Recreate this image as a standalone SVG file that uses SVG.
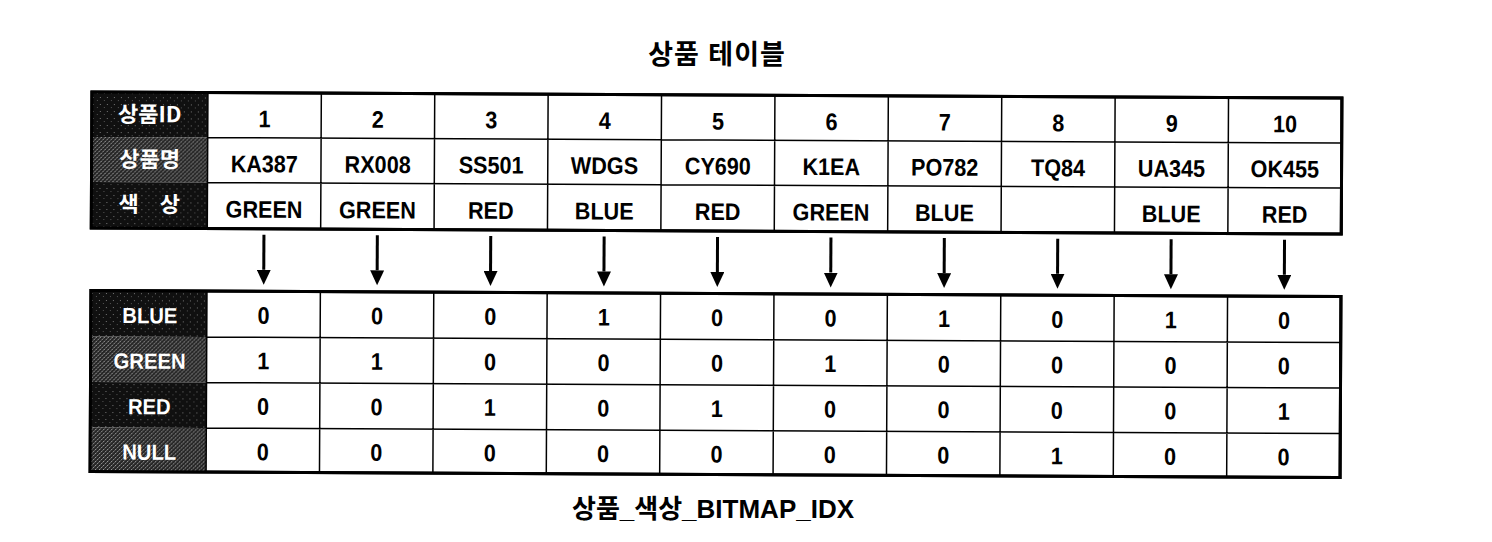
<svg xmlns="http://www.w3.org/2000/svg" width="1492" height="542" viewBox="0 0 1492 542">
<style>
  .ttl{font-family:"Liberation Sans","Noto Sans CJK KR",sans-serif;font-weight:bold;fill:#000;text-anchor:middle}
  .hk{font-family:"Noto Sans CJK KR","Liberation Sans",sans-serif;font-weight:bold;font-size:22px;fill:#fff;text-anchor:middle}
  .he{font-family:"Liberation Sans","Noto Sans CJK KR",sans-serif;font-weight:bold;font-size:22px;fill:#fff;text-anchor:middle}
  .d{font-family:"Liberation Sans",Arial,sans-serif;font-weight:bold;font-size:24px;fill:#000;text-anchor:middle}
  .outer{fill:#fff;stroke:#000;stroke-width:3}
  .grid{stroke:#000;stroke-width:1.5;fill:none}
  .shaft{stroke:#000;stroke-width:3;fill:none;marker-end:url(#ah)}
</style>
<defs>
  <pattern id="dk" width="7" height="7" patternUnits="userSpaceOnUse">
    <rect width="7" height="7" fill="#101010"/>
    <rect x="1" y="2" width="1" height="1" fill="#777"/>
    <rect x="5" y="5" width="1" height="1" fill="#555"/>
  </pattern>
  <pattern id="gy" width="4" height="4" patternUnits="userSpaceOnUse">
    <rect width="4" height="4" fill="#262626"/>
    <rect x="0" y="0" width="1" height="1" fill="#aaa"/>
    <rect x="2" y="2" width="1" height="1" fill="#999"/>
    <rect x="3" y="1" width="1" height="1" fill="#6a6a6a"/>
    <rect x="1" y="3" width="1" height="1" fill="#5a5a5a"/>
  </pattern>
  <marker id="ah" markerUnits="userSpaceOnUse" markerWidth="16" markerHeight="14" refX="0" refY="7" orient="auto">
    <path d="M0,0 L15,7 L0,14 z" fill="#000"/>
  </marker>
</defs>
<rect width="1492" height="542" fill="#fff"/>

<g id="title-product-table">
  <text class="ttl" x="717" y="64" font-size="27" letter-spacing="1">상품 테이블</text>
</g>

<g transform="rotate(0.28 716 285)">
  <g id="product-table">
    <rect class="outer" x="91" y="95" width="1250" height="136"/>
    <g id="hdr-id"><rect x="91" y="95" width="116" height="45" fill="url(#dk)"/><text class="hk" x="149" y="125">상품ID</text></g>
    <g id="hdr-name"><rect x="91" y="140" width="116" height="45" fill="url(#gy)"/><text class="hk" x="149" y="170">상품명</text></g>
    <g id="hdr-color"><rect x="91" y="185" width="116" height="46" fill="url(#dk)"/><text class="hk" x="153" y="215" letter-spacing="8">색 상</text></g>
    <path class="grid" d="M207,140 H1341 M207,185 H1341 M207,95 V231 M320.4,95 V231 M433.8,95 V231 M547.2,95 V231 M660.6,95 V231 M774,95 V231 M887.4,95 V231 M1000.8,95 V231 M1114.2,95 V231 M1227.6,95 V231"/>
    <rect x="91" y="95" width="1250" height="136" fill="none" stroke="#000" stroke-width="3"/>
    <g id="product-1"><text class="d" transform="translate(263.7 129.5) scale(0.9 1)">1</text><text class="d" transform="translate(263.7 174.5) scale(0.9 1)">KA387</text><text class="d" transform="translate(263.7 220) scale(0.9 1)">GREEN</text></g>
    <g id="product-2"><text class="d" transform="translate(377.1 129.5) scale(0.9 1)">2</text><text class="d" transform="translate(377.1 174.5) scale(0.9 1)">RX008</text><text class="d" transform="translate(377.1 220) scale(0.9 1)">GREEN</text></g>
    <g id="product-3"><text class="d" transform="translate(490.5 129.5) scale(0.9 1)">3</text><text class="d" transform="translate(490.5 174.5) scale(0.9 1)">SS501</text><text class="d" transform="translate(490.5 220) scale(0.9 1)">RED</text></g>
    <g id="product-4"><text class="d" transform="translate(603.9 129.5) scale(0.9 1)">4</text><text class="d" transform="translate(603.9 174.5) scale(0.9 1)">WDGS</text><text class="d" transform="translate(603.9 220) scale(0.9 1)">BLUE</text></g>
    <g id="product-5"><text class="d" transform="translate(717.3 129.5) scale(0.9 1)">5</text><text class="d" transform="translate(717.3 174.5) scale(0.9 1)">CY690</text><text class="d" transform="translate(717.3 220) scale(0.9 1)">RED</text></g>
    <g id="product-6"><text class="d" transform="translate(830.7 129.5) scale(0.9 1)">6</text><text class="d" transform="translate(830.7 174.5) scale(0.9 1)">K1EA</text><text class="d" transform="translate(830.7 220) scale(0.9 1)">GREEN</text></g>
    <g id="product-7"><text class="d" transform="translate(944.1 129.5) scale(0.9 1)">7</text><text class="d" transform="translate(944.1 174.5) scale(0.9 1)">PO782</text><text class="d" transform="translate(944.1 220) scale(0.9 1)">BLUE</text></g>
    <g id="product-8"><text class="d" transform="translate(1057.5 129.5) scale(0.9 1)">8</text><text class="d" transform="translate(1057.5 174.5) scale(0.9 1)">TQ84</text></g>
    <g id="product-9"><text class="d" transform="translate(1170.9 129.5) scale(0.9 1)">9</text><text class="d" transform="translate(1170.9 174.5) scale(0.9 1)">UA345</text><text class="d" transform="translate(1170.9 220) scale(0.9 1)">BLUE</text></g>
    <g id="product-10"><text class="d" transform="translate(1284.3 129.5) scale(0.9 1)">10</text><text class="d" transform="translate(1284.3 174.5) scale(0.9 1)">OK455</text><text class="d" transform="translate(1284.3 220) scale(0.9 1)">RED</text></g>
  </g>

  <g id="connectors">
    <line class="shaft" x1="263.7" y1="237" x2="263.7" y2="272"/>
    <line class="shaft" x1="377.1" y1="237" x2="377.1" y2="272"/>
    <line class="shaft" x1="490.5" y1="237" x2="490.5" y2="272"/>
    <line class="shaft" x1="603.9" y1="237" x2="603.9" y2="272"/>
    <line class="shaft" x1="717.3" y1="237" x2="717.3" y2="272"/>
    <line class="shaft" x1="830.7" y1="237" x2="830.7" y2="272"/>
    <line class="shaft" x1="944.1" y1="237" x2="944.1" y2="272"/>
    <line class="shaft" x1="1057.5" y1="237" x2="1057.5" y2="272"/>
    <line class="shaft" x1="1170.9" y1="237" x2="1170.9" y2="272"/>
    <line class="shaft" x1="1284.3" y1="237" x2="1284.3" y2="272"/>
  </g>

  <g id="bitmap-index">
    <rect class="outer" x="91" y="293.5" width="1250" height="181"/>
    <g id="hdr-blue"><rect x="91" y="293.5" width="116" height="46" fill="url(#dk)"/><text class="he" transform="translate(150 326) scale(0.92 1)">BLUE</text></g>
    <g id="hdr-green"><rect x="91" y="339.5" width="116" height="45.5" fill="url(#gy)"/><text class="he" transform="translate(150 371.5) scale(0.92 1)">GREEN</text></g>
    <g id="hdr-red"><rect x="91" y="385" width="116" height="45.5" fill="url(#dk)"/><text class="he" transform="translate(150 417) scale(0.92 1)">RED</text></g>
    <g id="hdr-null"><rect x="91" y="430.5" width="116" height="44" fill="url(#gy)"/><text class="he" transform="translate(150 462.5) scale(0.92 1)">NULL</text></g>
    <path class="grid" d="M207,339.5 H1341 M207,385 H1341 M207,430.5 H1341 M207,293.5 V474.5 M320.4,293.5 V474.5 M433.8,293.5 V474.5 M547.2,293.5 V474.5 M660.6,293.5 V474.5 M774,293.5 V474.5 M887.4,293.5 V474.5 M1000.8,293.5 V474.5 M1114.2,293.5 V474.5 M1227.6,293.5 V474.5"/>
    <rect x="91" y="293.5" width="1250" height="181" fill="none" stroke="#000" stroke-width="3"/>
    <g id="bit-1"><text class="d" transform="translate(263.7 326) scale(0.9 1)">0</text><text class="d" transform="translate(263.7 371.5) scale(0.9 1)">1</text><text class="d" transform="translate(263.7 417) scale(0.9 1)">0</text><text class="d" transform="translate(263.7 462.5) scale(0.9 1)">0</text></g>
    <g id="bit-2"><text class="d" transform="translate(377.1 326) scale(0.9 1)">0</text><text class="d" transform="translate(377.1 371.5) scale(0.9 1)">1</text><text class="d" transform="translate(377.1 417) scale(0.9 1)">0</text><text class="d" transform="translate(377.1 462.5) scale(0.9 1)">0</text></g>
    <g id="bit-3"><text class="d" transform="translate(490.5 326) scale(0.9 1)">0</text><text class="d" transform="translate(490.5 371.5) scale(0.9 1)">0</text><text class="d" transform="translate(490.5 417) scale(0.9 1)">1</text><text class="d" transform="translate(490.5 462.5) scale(0.9 1)">0</text></g>
    <g id="bit-4"><text class="d" transform="translate(603.9 326) scale(0.9 1)">1</text><text class="d" transform="translate(603.9 371.5) scale(0.9 1)">0</text><text class="d" transform="translate(603.9 417) scale(0.9 1)">0</text><text class="d" transform="translate(603.9 462.5) scale(0.9 1)">0</text></g>
    <g id="bit-5"><text class="d" transform="translate(717.3 326) scale(0.9 1)">0</text><text class="d" transform="translate(717.3 371.5) scale(0.9 1)">0</text><text class="d" transform="translate(717.3 417) scale(0.9 1)">1</text><text class="d" transform="translate(717.3 462.5) scale(0.9 1)">0</text></g>
    <g id="bit-6"><text class="d" transform="translate(830.7 326) scale(0.9 1)">0</text><text class="d" transform="translate(830.7 371.5) scale(0.9 1)">1</text><text class="d" transform="translate(830.7 417) scale(0.9 1)">0</text><text class="d" transform="translate(830.7 462.5) scale(0.9 1)">0</text></g>
    <g id="bit-7"><text class="d" transform="translate(944.1 326) scale(0.9 1)">1</text><text class="d" transform="translate(944.1 371.5) scale(0.9 1)">0</text><text class="d" transform="translate(944.1 417) scale(0.9 1)">0</text><text class="d" transform="translate(944.1 462.5) scale(0.9 1)">0</text></g>
    <g id="bit-8"><text class="d" transform="translate(1057.5 326) scale(0.9 1)">0</text><text class="d" transform="translate(1057.5 371.5) scale(0.9 1)">0</text><text class="d" transform="translate(1057.5 417) scale(0.9 1)">0</text><text class="d" transform="translate(1057.5 462.5) scale(0.9 1)">1</text></g>
    <g id="bit-9"><text class="d" transform="translate(1170.9 326) scale(0.9 1)">1</text><text class="d" transform="translate(1170.9 371.5) scale(0.9 1)">0</text><text class="d" transform="translate(1170.9 417) scale(0.9 1)">0</text><text class="d" transform="translate(1170.9 462.5) scale(0.9 1)">0</text></g>
    <g id="bit-10"><text class="d" transform="translate(1284.3 326) scale(0.9 1)">0</text><text class="d" transform="translate(1284.3 371.5) scale(0.9 1)">0</text><text class="d" transform="translate(1284.3 417) scale(0.9 1)">1</text><text class="d" transform="translate(1284.3 462.5) scale(0.9 1)">0</text></g>
  </g>
</g>

<g id="title-bitmap">
  <text class="ttl" x="713" y="518" font-size="26">상품_색상_BITMAP_IDX</text>
</g>
</svg>
